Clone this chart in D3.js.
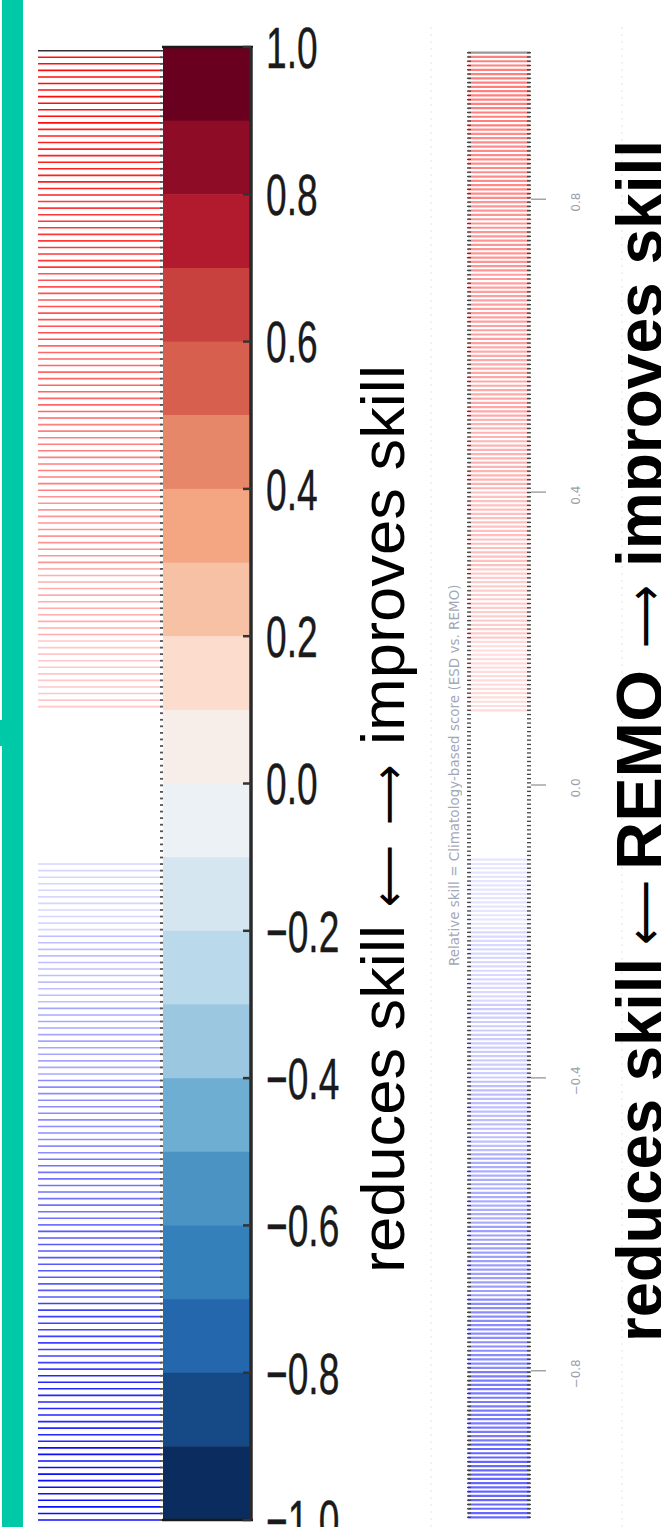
<!DOCTYPE html>
<html>
<head>
<meta charset="utf-8">
<script src="https://cdn.jsdelivr.net/npm/d3@7"></script>
<style>
  html, body { margin: 0; padding: 0; background: #fff; }
  svg { display: block; }
</style>
</head>
<body>
<div id="chart"></div>
<script>
const width = 661;
const height = 1527;

// colorbar ticks
const tickValues = [1.0, 0.8, 0.6, 0.4, 0.2, 0.0, -0.2, -0.4, -0.6, -0.8, -1.0];
const tickLabels = ["1.0", "0.8", "0.6", "0.4", "0.2", "0.0", "\u22120.2", "\u22120.4", "\u22120.6", "\u22120.8", "\u22121.0"];

// upper edge of the 20 colour classes and their colours
const binTops = [1.0, 0.9, 0.8, 0.7, 0.6, 0.5, 0.4, 0.3, 0.2, 0.1, 0.0, -0.1, -0.2, -0.3, -0.4, -0.5, -0.6, -0.7, -0.8, -0.9];
const binColors = ["#69001f", "#8e0c26", "#b21a2d", "#c8413e", "#d6604d", "#e6876a", "#f4a582", "#f7c1a5", "#fbdccd", "#f7eeea",
                   "#ebf1f4", "#d5e6f0", "#bad9ea", "#9bc8e0", "#6faed3", "#4a93c3", "#3480bb", "#2467ac", "#164a87", "#0a2c5f"];

// stripe opacity per class, left and right panel
const leftAlpha  = [0.95, 0.88, 0.78, 0.68, 0.6, 0.5, 0.42, 0.32, 0.22, 0, 0, 0.16, 0.25, 0.35, 0.45, 0.55, 0.65, 0.75, 0.85, 0.95];
const rightAlpha = [0.5, 0.46, 0.42, 0.38, 0.34, 0.3, 0.25, 0.2, 0.14, 0, 0, 0.1, 0.15, 0.2, 0.26, 0.32, 0.38, 0.45, 0.52, 0.6];

// small axis of the right panel
const rightTicks = [0.8, 0.4, 0.0, -0.4, -0.8];
const rightTickLabels = ["0.8", "0.4", "0.0", "\u22120.4", "\u22120.8"];

// rotated labels: piece text and the span (bottom y, top y) it covers
const LEFT = "\u27F5", RIGHT = "\u27F6";
const midLabel = ["reduces skill", LEFT, RIGHT, "improves skill"];
const midSpans = [[1273, 925], [907, 845], [825, 765], [745, 365]];
const bigLabel = ["reduces skill", LEFT, "REMO", RIGHT, "improves skill"];
const bigSpans = [[1342, 958], [945, 880], [870, 670], [648, 585], [567, 140]];
const panelNote = "Relative skill = Climatology-based score (ESD vs. REMO)";

const svg = d3.select("#chart")
    .append("svg")
    .attr("width", width)
    .attr("height", height)
    .style("background", "#fff");

// --- teal side bar ---
svg.append("rect").attr("x", 2).attr("y", 0).attr("width", 21).attr("height", height).attr("fill", "#00c9a8");
svg.append("rect").attr("x", 0).attr("y", 720).attr("width", 4).attr("height", 26).attr("fill", "#00c9a8");

// --- scales ---
const yBar = d3.scaleLinear().domain([1, -1]).range([47, 1520]);
const yLeft = d3.scaleLinear().domain([1, -1]).range([50.7, 1520]);
const yRight = d3.scaleLinear().domain([1, -1]).range([52.7, 1517.3]);

function binIndex(v) {
    const i = binTops.findIndex(t => v > t - 0.1 - 1e-9);
    return i < 0 ? binTops.length - 1 : i;
}

// --- faint dotted guides ---
[431, 622].forEach(x => {
    svg.append("line")
        .attr("x1", x).attr("x2", x).attr("y1", 27).attr("y2", height)
        .attr("stroke", "#ccc").attr("stroke-width", 1)
        .attr("stroke-dasharray", "2,5").attr("opacity", 0.5);
});

// --- left stripes ---
const leftStep = (1520 - 50.7) / 224;
const leftYs = d3.range(1, 225).map(k => 50.7 + k * leftStep);
const gLeft = svg.append("g");
gLeft.append("line")
    .attr("x1", 38).attr("x2", 165).attr("y1", 50.7).attr("y2", 50.7)
    .attr("stroke", "#333").attr("stroke-width", 1.4);
gLeft.selectAll("line.stripe")
    .data(leftYs)
    .join("line")
    .attr("class", "stripe")
    .attr("x1", 38).attr("x2", 162)
    .attr("y1", d => d).attr("y2", d => d)
    .attr("stroke", d => yLeft.invert(d) > 0 ? "#ff0000" : "#0000ff")
    .attr("stroke-opacity", d => leftAlpha[binIndex(yLeft.invert(d))])
    .attr("stroke-width", 1.6);

// --- colorbar ---
const gBar = svg.append("g");
gBar.selectAll("rect")
    .data(binTops)
    .join("rect")
    .attr("x", 163)
    .attr("width", 88)
    .attr("y", d => yBar(d))
    .attr("height", d => yBar(d - 0.1) - yBar(d) + 0.5)
    .attr("fill", (d, i) => binColors[i]);

// stripe end caps over the bar's left edge
gLeft.selectAll("line.cap")
    .data(leftYs)
    .join("line")
    .attr("class", "cap")
    .attr("x1", 160).attr("x2", 166)
    .attr("y1", d => d).attr("y2", d => d)
    .attr("stroke", "#555").attr("stroke-width", 1.8);

gBar.append("line")
    .attr("x1", 162).attr("x2", 253).attr("y1", yBar(1)).attr("y2", yBar(1))
    .attr("stroke", "#1a1a1a").attr("stroke-width", 2.5);
gBar.append("line")
    .attr("x1", 162).attr("x2", 253).attr("y1", yBar(-1)).attr("y2", yBar(-1))
    .attr("stroke", "#1a1a1a").attr("stroke-width", 2.5);
gBar.append("line")
    .attr("x1", 251).attr("x2", 251).attr("y1", yBar(1)).attr("y2", yBar(-1))
    .attr("stroke", "#2a2a2a").attr("stroke-width", 3.5);

gBar.selectAll("line.tick")
    .data(tickValues)
    .join("line")
    .attr("class", "tick")
    .attr("x1", 243).attr("x2", 251)
    .attr("y1", d => yBar(d)).attr("y2", d => yBar(d))
    .attr("stroke", "#333").attr("stroke-width", 2.5);

gBar.selectAll("text.ticklabel")
    .data(tickValues)
    .join("text")
    .attr("class", "ticklabel")
    .attr("transform", d => `translate(266,${yBar(d)}) scale(0.64,1)`)
    .attr("dy", "0.36em")
    .attr("font-family", "Liberation Sans, Arial, sans-serif")
    .attr("font-size", 58)
    .attr("fill", "#1a1a1a")
    .attr("stroke", "#1a1a1a")
    .attr("stroke-width", 0.4)
    .text((d, i) => tickLabels[i]);

// rotated label built from pieces, each stretched to its span
function rotatedLabel(parts, spans, x, size, weight, arrowSize) {
    const g = svg.append("g");
    const isArrow = d => d === LEFT || d === RIGHT;
    g.selectAll("text")
        .data(parts)
        .join("text")
        .attr("transform", (d, i) => `translate(${x},${spans[i][0]}) rotate(-90)`)
        .attr("font-family", d => isArrow(d) ? "DejaVu Sans, sans-serif" : "Liberation Sans, Arial, sans-serif")
        .attr("font-weight", d => isArrow(d) ? "normal" : weight)
        .attr("font-size", d => isArrow(d) ? arrowSize : size)
        .attr("textLength", (d, i) => spans[i][0] - spans[i][1])
        .attr("lengthAdjust", "spacingAndGlyphs")
        .attr("fill", "#000")
        .text(d => d);
    return g;
}

// --- middle rotated label ---
rotatedLabel(midLabel, midSpans, 404, 61, "normal", 46);

// --- right stripes ---
const rightStep = (1517.3 - 52.7) / 343;
const rightYs = d3.range(0, 344).map(k => 52.7 + k * rightStep);
const gRight = svg.append("g");
gRight.selectAll("line.stripe")
    .data(rightYs)
    .join("line")
    .attr("class", "stripe")
    .attr("x1", 468).attr("x2", 530)
    .attr("y1", d => d).attr("y2", d => d)
    .attr("stroke", (d, i) => i === 0 ? "#999" : (yRight.invert(d) > 0 ? "#ff0000" : "#0000ff"))
    .attr("stroke-opacity", (d, i) => i === 0 ? 1 : rightAlpha[binIndex(yRight.invert(d))])
    .attr("stroke-width", 2.2);
[[467, 471], [527, 531]].forEach(([a, b]) => {
    gRight.selectAll(null)
        .data(rightYs)
        .join("line")
        .attr("x1", a).attr("x2", b)
        .attr("y1", d => d).attr("y2", d => d)
        .attr("stroke", "#444").attr("stroke-width", 1.3);
});

gRight.selectAll("line.rtick")
    .data(rightTicks)
    .join("line")
    .attr("class", "rtick")
    .attr("x1", 531).attr("x2", 546)
    .attr("y1", d => yRight(d)).attr("y2", d => yRight(d))
    .attr("stroke", "#777").attr("stroke-width", 1);

gRight.selectAll("text.rlabel")
    .data(rightTicks)
    .join("text")
    .attr("class", "rlabel")
    .attr("transform", d => `translate(580,${yRight(d) + 3}) rotate(-90)`)
    .attr("text-anchor", "middle")
    .attr("font-family", "DejaVu Sans, sans-serif")
    .attr("font-size", 12)
    .attr("fill", "#8a8fa0")
    .attr("opacity", 0.85)
    .text((d, i) => rightTickLabels[i]);

svg.append("text")
    .attr("transform", "translate(459,966) rotate(-90)")
    .attr("font-family", "DejaVu Sans, sans-serif")
    .attr("font-size", 13.5)
    .attr("fill", "#7d849a")
    .attr("opacity", 0.7)
    .text(panelNote);

// --- big bold label (runs off the right edge) ---
rotatedLabel(bigLabel, bigSpans, 662, 64, "bold", 50);
</script>
</body>
</html>
